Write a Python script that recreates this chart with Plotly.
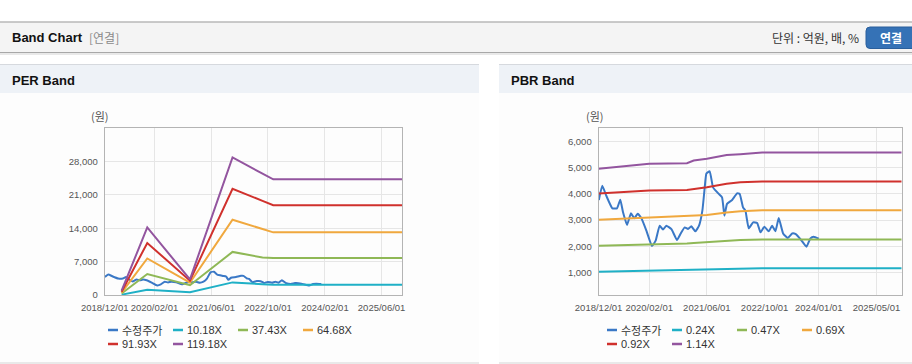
import plotly.graph_objects as go

W, H = 912, 364


def px(x):
    return x / W


def py(y):
    return 1 - y / H


# ---------------- data ----------------
price_name = "수정주가"
price_dates = [
    "2018-12-03", "2019-01-01", "2019-02-04", "2019-03-27", "2019-05-05", "2019-06-02",
    "2019-06-25", "2019-07-29", "2019-08-31", "2019-09-28", "2019-10-26", "2019-11-26",
    "2020-01-08", "2020-02-24", "2020-03-26", "2020-04-29", "2020-05-27", "2020-06-24",
    "2020-08-06", "2020-09-22", "2020-10-21", "2020-11-26", "2020-12-24", "2021-01-21",
    "2021-02-24", "2021-03-27", "2021-04-24", "2021-05-14", "2021-05-28", "2021-06-25",
    "2021-07-23", "2021-09-09", "2021-10-07", "2021-10-27", "2021-11-18", "2021-12-31",
    "2022-02-11", "2022-03-05", "2022-04-02", "2022-04-22", "2022-05-20", "2022-06-26",
    "2022-07-30", "2022-08-27", "2022-09-29", "2022-11-05", "2022-12-03", "2022-12-31",
    "2023-01-28", "2023-03-06", "2023-04-14", "2023-05-21", "2023-06-18", "2023-07-30",
    "2023-09-19", "2023-10-22", "2023-11-19", "2024-01-01",
]
price_values = [
    3770, 4310, 3930, 3450, 3450, 3780,
    3300, 2820, 3260, 3070, 3240, 3080,
    2600, 2015, 2220, 2790, 2640, 2790,
    2660, 2245, 2470, 2725, 2665, 2765,
    2575, 2790, 3360, 4250, 4780, 4860,
    4250, 4000, 3870, 3170, 3620, 3770,
    4020, 4000, 3490, 3360, 2690, 2915,
    2895, 2535, 2750, 2575, 2790, 2575,
    3085, 2495, 2320, 2495, 2475, 2280,
    1990, 2305, 2370, 2295,
]

per_band_dates = ["2019-04-25", "2019-12-01", "2020-12-01", "2021-12-01",
                  "2022-08-15", "2022-11-15", "2025-11-23"]
per_10_18x = [80, 1100, 560, 2640, 2250, 2150, 2150]
per_37_43x = [300, 4400, 2050, 9030, 7850, 7780, 7780]
per_64_68x = [500, 7650, 2570, 15780, 13830, 13130, 13130]
per_91_93x = [700, 10900, 2990, 22240, 19740, 18830, 18830]
per_119_18x = [900, 14150, 3270, 28830, 25440, 24250, 24250]
per_band_names = ["10.18X", "37.43X", "64.68X", "91.93X", "119.18X"]

pbr_band_dates = ["2018-12-01", "2020-02-01", "2020-12-15", "2021-02-10", "2021-06-01",
                  "2021-11-15", "2022-03-10", "2022-09-10", "2025-11-30"]
pbr_0_24x = [1035, 1075, 1100, 1105, 1115, 1155, 1160, 1165, 1165]
pbr_0_47x = [2030, 2065, 2115, 2130, 2165, 2215, 2245, 2265, 2265]
pbr_0_69x = [3020, 3105, 3145, 3165, 3200, 3290, 3335, 3375, 3375]
pbr_0_92x = [4015, 4125, 4150, 4185, 4255, 4385, 4440, 4475, 4475]
pbr_1_14x = [4960, 5145, 5170, 5270, 5335, 5480, 5515, 5575, 5575]
pbr_band_names = ["0.24X", "0.47X", "0.69X", "0.92X", "1.14X"]

per_x_ticks = ["2018-12-01", "2020-02-01", "2021-06-01", "2022-10-01", "2024-02-01", "2025-06-01"]
per_x_labels = ["2018/12/01", "2020/02/01", "2021/06/01", "2022/10/01", "2024/02/01", "2025/06/01"]
per_y_ticks = [0, 7000, 14000, 21000, 28000, 35000]
per_y_labels = ["0", "7,000", "14,000", "21,000", "28,000", ""]

pbr_x_ticks = ["2018-12-01", "2020-02-01", "2021-06-01", "2022-10-01", "2024-01-01", "2025-05-01"]
pbr_x_labels = ["2018/12/01", "2020/02/01", "2021/06/01", "2022/10/01", "2024/01/01", "2025/05/01"]
pbr_y_ticks = [1000, 2000, 3000, 4000, 5000, 6000]
pbr_y_labels = ["1,000", "2,000", "3,000", "4,000", "5,000", "6,000"]

# ---------------- style ----------------
C_PRICE = "#3a78c6"
BAND_COLORS = ["#1fb0c6", "#8fb856", "#f0a83e", "#d0312d", "#93559f"]
LAT = "Liberation Sans, Arial, Noto Sans CJK KR, sans-serif"
KR = "Noto Sans CJK KR, Liberation Sans, sans-serif"

fig = go.Figure()

per_bands = [per_10_18x, per_37_43x, per_64_68x, per_91_93x, per_119_18x]
pbr_bands = [pbr_0_24x, pbr_0_47x, pbr_0_69x, pbr_0_92x, pbr_1_14x]

fig.add_trace(go.Scatter(x=price_dates, y=price_values, name=price_name, mode="lines",
                         line=dict(color=C_PRICE, width=2, shape="spline", smoothing=0.4),
                         xaxis="x", yaxis="y", showlegend=False))
for vals, nm, col in zip(per_bands, per_band_names, BAND_COLORS):
    fig.add_trace(go.Scatter(x=per_band_dates, y=vals, name=nm, mode="lines",
                             line=dict(color=col, width=2), xaxis="x", yaxis="y",
                             showlegend=False))

fig.add_trace(go.Scatter(x=price_dates, y=price_values, name=price_name, mode="lines",
                         line=dict(color=C_PRICE, width=2, shape="spline", smoothing=0.4),
                         xaxis="x2", yaxis="y2", showlegend=False))
for vals, nm, col in zip(pbr_bands, pbr_band_names, BAND_COLORS):
    fig.add_trace(go.Scatter(x=pbr_band_dates, y=vals, name=nm, mode="lines",
                             line=dict(color=col, width=2), xaxis="x2", yaxis="y2",
                             showlegend=False))

tickfont = dict(family=LAT, size=9.5, color="#555555")
axis_common = dict(showline=True, mirror=True, linecolor="#b4b4b4", linewidth=1,
                   gridcolor="#e6e6e6", gridwidth=1, zeroline=False,
                   ticks="outside", ticklen=4, tickcolor="rgba(0,0,0,0)",
                   tickfont=tickfont, fixedrange=True, automargin=False, tickangle=0)

y_dom = [py(295), py(128)]
fig.update_layout(
    width=W, height=H,
    margin=dict(l=0, r=0, t=0, b=0, autoexpand=False),
    paper_bgcolor="#ffffff",
    plot_bgcolor="#ffffff",
    xaxis=dict(domain=[px(104.7), px(402)], type="date",
               range=["2018-12-01", "2025-11-23"],
               tickmode="array", tickvals=per_x_ticks, ticktext=per_x_labels,
               anchor="y", **axis_common),
    yaxis=dict(domain=y_dom, range=[0, 35000], tickmode="array",
               tickvals=per_y_ticks, ticktext=per_y_labels, anchor="x", **axis_common),
    xaxis2=dict(domain=[px(598.6), px(901.7)], type="date",
                range=["2018-12-01", "2025-11-30"],
                tickmode="array", tickvals=pbr_x_ticks, ticktext=pbr_x_labels,
                anchor="y2", **axis_common),
    yaxis2=dict(domain=y_dom, range=[150, 6510], tickmode="array",
                tickvals=pbr_y_ticks, ticktext=pbr_y_labels, anchor="x2", **axis_common),
    showlegend=False,
)

shapes = []
annotations = []


def rect(x0, y0, x1, y1, fill, line=None, layer="below"):
    shapes.append(dict(type="rect", xref="paper", yref="paper",
                       x0=px(x0), x1=px(x1), y0=py(y1), y1=py(y0),
                       fillcolor=fill, line=dict(width=0) if line is None else line,
                       layer=layer))


def hline(x0, x1, y, color, width=1, layer="below"):
    shapes.append(dict(type="line", xref="paper", yref="paper",
                       x0=px(x0), x1=px(x1), y0=py(y), y1=py(y),
                       line=dict(color=color, width=width), layer=layer))


def text(x, y, s, size=12, color="#333333", bold=False, family=KR, xanchor="left"):
    if bold:
        s = "<b>" + s + "</b>"
    annotations.append(dict(xref="paper", yref="paper", x=px(x), y=py(y), text=s,
                            showarrow=False, xanchor=xanchor, yanchor="middle",
                            borderpad=0, font=dict(family=family, size=size, color=color)))


# header bar
rect(0, 22, W, 52.5, "#f4f4f4")
hline(0, W, 22, "#b9b9b9", 1.5)
hline(0, W, 52.5, "#a8a8a8", 1.2)
hline(0, W, 54, "#e2e2e2", 1.5)
text(11, 38, "Band Chart", size=13, color="#111111", bold=True, family=LAT)
text(88, 38, "[연결]", size=12, color="#8a8a8a", family=KR)
text(860, 38, "단위 : 억원, 배, %", size=12, color="#333333", family=KR, xanchor="right")

# button
bx0, bx1, by0, by1, r = 866, 916, 27, 48.5, 4
path = (f"M {px(bx0 + r)},{py(by0)} L {px(bx1 - r)},{py(by0)} "
        f"Q {px(bx1)},{py(by0)} {px(bx1)},{py(by0 + r)} L {px(bx1)},{py(by1 - r)} "
        f"Q {px(bx1)},{py(by1)} {px(bx1 - r)},{py(by1)} L {px(bx0 + r)},{py(by1)} "
        f"Q {px(bx0)},{py(by1)} {px(bx0)},{py(by1 - r)} L {px(bx0)},{py(by0 + r)} "
        f"Q {px(bx0)},{py(by0)} {px(bx0 + r)},{py(by0)} Z")
shapes.append(dict(type="path", xref="paper", yref="paper", path=path,
                   fillcolor="#3572b6", line=dict(color="#2a5f9c", width=1), layer="below"))
text(891, 38, "연결", size=12, color="#ffffff", bold=True, family=KR, xanchor="center")

# panels
for (x0, x1, title, tx) in [(0, 479, "PER Band", 11), (499, 912, "PBR Band", 510)]:
    rect(x0, 93, x1, 362.5, "#fdfdfd")
    rect(x0, 64.5, x1, 93, "#eef2f7")
    hline(x0, x1, 64.5, "#d6d9de", 1.2)
    hline(x0, x1, 363, "#d4d4d4", 1.2)
    text(tx, 80, title, size=13, color="#111111", bold=True, family=LAT)

text(100, 116, "(원)", size=11, color="#555555", family=KR, xanchor="center")
text(595, 116, "(원)", size=11, color="#555555", family=KR, xanchor="center")

# legends (4 columns, 65px per entry)
legend_names_per = [price_name] + per_band_names
legend_names_pbr = [price_name] + pbr_band_names
legend_colors = [C_PRICE] + BAND_COLORS
for x_start, names in [(108, legend_names_per), (607, legend_names_pbr)]:
    for i, (nm, col) in enumerate(zip(names, legend_colors)):
        row, c = divmod(i, 4)
        x0 = x_start + 65 * c
        yy = 330 + 14 * row
        hline(x0, x0 + 10, yy, col, 2.5, layer="above")
        text(x0 + 13, yy, nm, size=11, color="#333333",
             family=KR if nm == price_name else LAT)

fig.update_layout(shapes=shapes, annotations=annotations)

fig.write_html(
    "out.html",
    config={"displayModeBar": False, "staticPlot": True},
    post_script="document.body.style.margin='0px';document.body.style.padding='0px';"
                "document.documentElement.style.overflow='hidden';",
)
